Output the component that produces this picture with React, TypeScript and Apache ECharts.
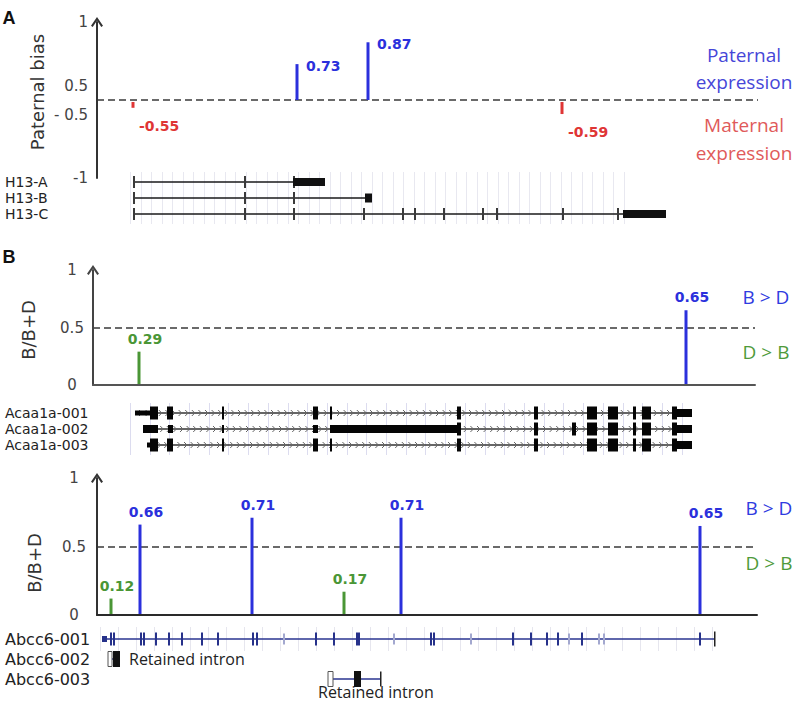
import React, { useEffect, useRef } from 'react';
import * as echarts from 'echarts';

// ---------- Panel A : H13 (paternal bias) ----------
const h13SnpPositions = [36, 200, 271, 465];
const h13PaternalBias = [-0.55, 0.73, 0.87, -0.59];
const h13Transcripts = ['H13-A', 'H13-B', 'H13-C'];
const h13TranscriptSpans = [[36, 228], [36, 275], [36, 569]];
const h13Locus = [33, 530];
const h13Exons: [number, number, number, string][] = [
  [36, 38, 0, 'tick'], [147, 149, 0, 'tick'], [196, 198, 0, 'tick'], [196, 228, 0, 'cds'],
  [36, 38, 1, 'tick'], [147, 149, 1, 'tick'], [196, 198, 1, 'tick'], [268, 275, 1, 'end'],
  [36, 38, 2, 'tick'], [147, 149, 2, 'tick'], [196, 198, 2, 'tick'], [266, 268, 2, 'tick'],
  [305, 307, 2, 'tick'], [317, 319, 2, 'tick'], [346, 348, 2, 'tick'], [385, 387, 2, 'tick'],
  [399, 401, 2, 'tick'], [465, 467, 2, 'tick'], [520, 522, 2, 'tick'], [526, 569, 2, 'cds'],
];

// ---------- Panel B (top) : Acaa1a ----------
const acaaSnpPositions = [46, 593];
const acaaBDRatio = [0.29, 0.65];
const acaaTranscripts = ['Acaa1a-001', 'Acaa1a-002', 'Acaa1a-003'];
const acaaTranscriptSpans = [[42, 599], [50, 599], [54, 599]];
const acaaLocus = [37, 600];
const acaaExons: [number, number, number, string][] = [
  [42, 57, 0, 'utr'], [57, 65, 0, 'cds'], [74, 80, 0, 'cds'], [129, 131, 0, 'cds'], [220, 225, 0, 'cds'],
  [237, 239, 0, 'cds'], [364, 368, 0, 'cds'], [441, 445, 0, 'cds'], [494, 504, 0, 'cds'], [515, 525, 0, 'cds'],
  [540, 543, 0, 'cds'], [549, 558, 0, 'cds'], [579, 584, 0, 'cds'], [584, 599, 0, 'mid'],
  [50, 65, 1, 'mid'], [75, 80, 1, 'mid'], [129, 131, 1, 'mid'], [220, 225, 1, 'mid'], [237, 364, 1, 'mid'],
  [364, 368, 1, 'cds'], [441, 445, 1, 'cds'], [479, 483, 1, 'cds'], [494, 504, 1, 'cds'], [515, 525, 1, 'cds'],
  [540, 543, 1, 'cds'], [549, 558, 1, 'cds'], [579, 584, 1, 'cds'], [584, 599, 1, 'mid'],
  [54, 57, 2, 'utr'], [57, 65, 2, 'cds'], [74, 80, 2, 'cds'], [129, 131, 2, 'cds'], [220, 225, 2, 'cds'],
  [237, 239, 2, 'cds'], [364, 368, 2, 'cds'], [441, 445, 2, 'cds'], [494, 504, 2, 'cds'], [515, 525, 2, 'cds'],
  [540, 543, 2, 'cds'], [549, 558, 2, 'cds'], [579, 584, 2, 'cds'], [584, 599, 2, 'mid'],
];

// ---------- Panel B (bottom) : Abcc6 ----------
const abccSnpPositions = [14, 43, 155, 247, 304, 603];
const abccBDRatio = [0.12, 0.66, 0.71, 0.17, 0.71, 0.65];
const abccTranscripts = ['Abcc6-001', 'Abcc6-002', 'Abcc6-003'];
const abccTranscriptSpans = [[5, 617], [11, 23], [231, 283]];
const abccNotes = ['', 'Retained intron', 'Retained intron'];
const abccLocus = [3, 620];
const abccTickExons = [13, 16, 43, 46, 58, 71, 84, 104, 120, 155, 159, 218, 236, 259, 261, 333, 336, 415, 433, 449, 460, 484, 602];
const abccFaintExons = [186, 296, 373, 471, 501, 506];
const abccOtherExons: [number, number, number, string][] = [
  [5, 10, 0, 'utr'], [617, 618, 0, 'cap'],
  [11, 15, 1, 'open'], [16, 23, 1, 'box'],
  [231, 236, 2, 'open'], [257, 264, 2, 'box'], [283, 284, 2, 'cap'],
];
const abccExons: [number, number, number, string][] = [
  ...abccTickExons.map((x) => [x, x + 2, 0, 'tick'] as [number, number, number, string]),
  ...abccFaintExons.map((x) => [x, x + 2, 0, 'faint'] as [number, number, number, string]),
  ...abccOtherExons,
];

const BLUE = '#2b30dc';
const RED = '#df3535';
const GREEN = '#4a9636';
const ARROW = 'path://M0,10 L7,0 L14,10 L12,11.5 L7,4 L2,11.5 Z';
const LABEL_FONT = 'DejaVu Sans';

type KindStyle = { h: number; fill: string; stroke?: string; minW?: number };

function exonRenderer(source: [number, number, number, string][], kinds: Record<string, KindStyle>) {
  return (params: any, api: any) => {
    const [s, e, row, kind] = source[params.dataIndex];
    const st = kinds[kind];
    const p0 = api.coord([s, row]);
    const p1 = api.coord([e, row]);
    const w = Math.max(p1[0] - p0[0], st.minW ?? 2);
    return {
      type: 'rect',
      shape: { x: p0[0], y: p0[1] - st.h / 2, width: w, height: st.h },
      style: { fill: st.fill, stroke: st.stroke || 'none', lineWidth: st.stroke ? 1 : 0 },
    };
  };
}

function trackGridRenderer(spacing: number, color: string, lastRow: number, pad: number) {
  return (params: any, api: any) => {
    const s = api.coord([api.value(0), 0]);
    const e = api.coord([api.value(1), lastRow]);
    const children: any[] = [];
    for (let x = s[0]; x <= e[0]; x += spacing) {
      children.push({
        type: 'line',
        shape: { x1: Math.round(x) + 0.5, y1: s[1] - pad, x2: Math.round(x) + 0.5, y2: e[1] + pad },
        style: { stroke: color, lineWidth: 1 },
      });
    }
    return { type: 'group', children };
  };
}

function transcriptRenderer(spans: number[][], opts: { color: string; width: number; chevrons?: boolean; notes?: string[] }) {
  return (params: any, api: any) => {
    const i = params.dataIndex;
    const p0 = api.coord([spans[i][0], i]);
    const p1 = api.coord([spans[i][1], i]);
    const children: any[] = [
      { type: 'line', shape: { x1: p0[0], y1: p0[1], x2: p1[0], y2: p1[1] }, style: { stroke: opts.color, lineWidth: opts.width } },
    ];
    if (opts.chevrons) {
      for (let x = p0[0] + 6; x < p1[0] - 3; x += 6.6) {
        children.push({
          type: 'polyline',
          shape: { points: [[x - 2, p0[1] - 3], [x + 1, p0[1]], [x - 2, p0[1] + 3]] },
          style: { stroke: '#666', lineWidth: 1, fill: 'none' },
        });
      }
    }
    const note = opts.notes ? opts.notes[i] : '';
    if (note) {
      const below = i === 2;
      children.push({
        type: 'text',
        x: below ? p0[0] - 10 : p1[0] + 9,
        y: below ? p0[1] + 13 : p0[1],
        style: { text: note, fill: '#222', fontSize: 16, fontFamily: 'Open Sans', align: 'left', verticalAlign: 'middle' },
      });
    }
    return { type: 'group', children };
  };
}

function biasStemRenderer(params: any, api: any) {
  const i = params.dataIndex;
  const v = h13PaternalBias[i];
  const x = h13SnpPositions[i];
  const d = v > 0 ? v - 0.5 : v + 0.5;
  const base = api.coord([x, 0]);
  const tip = api.coord([x, d]);
  const col = v > 0 ? BLUE : RED;
  return {
    type: 'group',
    children: [
      { type: 'line', shape: { x1: base[0], y1: base[1] + (v < 0 ? 2 : 0), x2: tip[0], y2: tip[1] }, style: { stroke: col, lineWidth: 3 } },
      {
        type: 'text',
        x: v > 0 ? tip[0] + 9 : tip[0] + 6,
        y: v > 0 ? tip[1] + 2 : tip[1] + 18,
        style: { text: v.toFixed(2), fill: col, fontSize: 14, fontWeight: 'bold', fontFamily: LABEL_FONT, align: 'left', verticalAlign: 'middle' },
      },
    ],
  };
}

function ratioStemRenderer(positions: number[], values: number[]) {
  return (params: any, api: any) => {
    const i = params.dataIndex;
    const v = values[i];
    const base = api.coord([positions[i], 0]);
    const tip = api.coord([positions[i], v]);
    const col = v > 0.5 ? BLUE : GREEN;
    return {
      type: 'group',
      children: [
        { type: 'line', shape: { x1: base[0], y1: base[1] - 1, x2: tip[0], y2: tip[1] }, style: { stroke: col, lineWidth: 3 } },
        {
          type: 'text',
          x: tip[0] + 6,
          y: tip[1] - 13,
          style: { text: v.toFixed(2), fill: col, fontSize: 14, fontWeight: 'bold', fontFamily: LABEL_FONT, align: 'center', verticalAlign: 'middle' },
        },
      ],
    };
  };
}

const dashedSplit = {
  show: true,
  lineStyle: { color: ['transparent', '#6a6a6a', 'transparent'], type: [7, 4], width: 2 },
};

function plotYAxis(gridIndex: number, min: number, max: number, color: string, label: any) {
  return {
    type: 'value', gridIndex, min, max, interval: 0.5,
    axisLine: { show: true, symbol: ['none', ARROW], symbolSize: [12, 10], lineStyle: { color, width: 2 } },
    axisTick: { show: false },
    axisLabel: { color: '#444', fontSize: 15, fontFamily: LABEL_FONT, ...label },
    splitLine: dashedSplit,
  };
}

function geneYAxis(gridIndex: number, names: string[], margin: number, fontSize: number, lineHeight: number) {
  return {
    type: 'category', gridIndex, data: names, inverse: true,
    axisLine: { show: false }, axisTick: { show: false }, splitLine: { show: false },
    axisLabel: { interval: 0, align: 'left', margin, color: '#222', fontSize, lineHeight, fontFamily: LABEL_FONT },
  };
}

function hiddenX(gridIndex: number, max: number) {
  return { type: 'value', gridIndex, min: 0, max, show: false };
}

function baseX(gridIndex: number, max: number, color: string) {
  return {
    type: 'value', gridIndex, min: 0, max,
    axisLine: { show: true, onZero: false, lineStyle: { color, width: 2 } },
    axisTick: { show: false }, axisLabel: { show: false }, splitLine: { show: false },
  };
}

const kindsA: Record<string, KindStyle> = {
  tick: { h: 12, fill: '#3a3a3a' },
  cds: { h: 8, fill: '#111' },
  end: { h: 9, fill: '#111' },
};
const kindsB1: Record<string, KindStyle> = {
  cds: { h: 13, fill: '#050505' },
  mid: { h: 8, fill: '#050505' },
  utr: { h: 5, fill: '#050505' },
};
const kindsB2: Record<string, KindStyle> = {
  tick: { h: 13, fill: '#26318a' },
  faint: { h: 11, fill: '#a3a8cf' },
  utr: { h: 6, fill: '#26318a' },
  open: { h: 15, fill: '#ffffff', stroke: '#555' },
  box: { h: 16, fill: '#111' },
  cap: { h: 15, fill: '#222', minW: 1.5 },
};

const titleStyle = { fill: '#333', fontSize: 18, fontFamily: LABEL_FONT, align: 'center', verticalAlign: 'middle' };
const sideStyle = { fontSize: 19, fontFamily: 'Open Sans', align: 'center', verticalAlign: 'middle' };

export default function App() {
  const ref = useRef<HTMLDivElement>(null);
  useEffect(() => {
    if (!ref.current) return;
    const chart = echarts.init(ref.current, undefined, { renderer: 'svg' });
    const option: any = {
      animation: false,
      backgroundColor: '#ffffff',
      grid: [
        { left: 97, top: 22, width: 661, height: 156 },
        { left: 97, top: 174, width: 661, height: 48 },
        { left: 93, top: 270, width: 662, height: 115 },
        { left: 93, top: 405, width: 662, height: 48 },
        { left: 97, top: 478, width: 660, height: 137 },
        { left: 97, top: 629, width: 660, height: 60 },
      ],
      xAxis: [
        hiddenX(0, 661),
        hiddenX(1, 661),
        baseX(2, 662, '#555'),
        hiddenX(3, 662),
        baseX(4, 660, '#2a2a2a'),
        hiddenX(5, 660),
      ],
      yAxis: [
        plotYAxis(0, -0.5, 0.5, '#333', {
          align: 'right', margin: 9,
          formatter: (v: number) => (v > 0.25 ? '1' : v < -0.25 ? '-1' : '{a|0.5}\n{a|- 0.5}'),
          rich: { a: { lineHeight: 29, fontSize: 15, fontFamily: LABEL_FONT, color: '#444', align: 'right' } },
        }),
        geneYAxis(1, h13Transcripts, 92, 14, 14),
        plotYAxis(2, 0, 1, '#444', { align: 'center', margin: 21 }),
        geneYAxis(3, acaaTranscripts, 88, 14, 14),
        plotYAxis(4, 0, 1, '#333', { align: 'center', margin: 23 }),
        geneYAxis(5, abccTranscripts, 92, 16, 19),
      ],
      series: [
        // Panel A
        {
          type: 'custom', xAxisIndex: 0, yAxisIndex: 0, renderItem: biasStemRenderer,
          data: h13SnpPositions.map((x, i) => [x, h13PaternalBias[i] > 0 ? h13PaternalBias[i] - 0.5 : h13PaternalBias[i] + 0.5]),
          encode: { x: 0, y: 1 },
        },
        {
          type: 'custom', xAxisIndex: 1, yAxisIndex: 1, renderItem: trackGridRenderer(10.5, '#e8e8f0', 2, 10),
          data: [[h13Locus[0], h13Locus[1], 0]], encode: { x: [0, 1], y: 2 },
        },
        {
          type: 'custom', xAxisIndex: 1, yAxisIndex: 1,
          renderItem: transcriptRenderer(h13TranscriptSpans, { color: '#1a1a1a', width: 1.6 }),
          data: h13TranscriptSpans.map((s, i) => [s[0], s[1], i]), encode: { x: [0, 1], y: 2 },
        },
        {
          type: 'custom', xAxisIndex: 1, yAxisIndex: 1, renderItem: exonRenderer(h13Exons, kindsA),
          data: h13Exons.map((d) => [d[0], d[1], d[2]]), encode: { x: [0, 1], y: 2 },
        },
        // Panel B top
        {
          type: 'custom', xAxisIndex: 2, yAxisIndex: 2, renderItem: ratioStemRenderer(acaaSnpPositions, acaaBDRatio),
          data: acaaSnpPositions.map((x, i) => [x, acaaBDRatio[i]]), encode: { x: 0, y: 1 },
        },
        {
          type: 'custom', xAxisIndex: 3, yAxisIndex: 3, renderItem: trackGridRenderer(19.7, '#dcdcef', 2, 10),
          data: [[acaaLocus[0], acaaLocus[1], 0]], encode: { x: [0, 1], y: 2 },
        },
        {
          type: 'custom', xAxisIndex: 3, yAxisIndex: 3,
          renderItem: transcriptRenderer(acaaTranscriptSpans, { color: '#333', width: 1.4, chevrons: true }),
          data: acaaTranscriptSpans.map((s, i) => [s[0], s[1], i]), encode: { x: [0, 1], y: 2 },
        },
        {
          type: 'custom', xAxisIndex: 3, yAxisIndex: 3, renderItem: exonRenderer(acaaExons, kindsB1),
          data: acaaExons.map((d) => [d[0], d[1], d[2]]), encode: { x: [0, 1], y: 2 },
        },
        // Panel B bottom
        {
          type: 'custom', xAxisIndex: 4, yAxisIndex: 4, renderItem: ratioStemRenderer(abccSnpPositions, abccBDRatio),
          data: abccSnpPositions.map((x, i) => [x, abccBDRatio[i]]), encode: { x: 0, y: 1 },
        },
        {
          type: 'custom', xAxisIndex: 5, yAxisIndex: 5, renderItem: trackGridRenderer(18, '#e6e6ee', 0, 12),
          data: [[abccLocus[0], abccLocus[1], 0]], encode: { x: [0, 1], y: 2 },
        },
        {
          type: 'custom', xAxisIndex: 5, yAxisIndex: 5,
          renderItem: transcriptRenderer(abccTranscriptSpans, { color: '#2a3590', width: 1.6, notes: abccNotes }),
          data: abccTranscriptSpans.map((s, i) => [s[0], s[1], i]), encode: { x: [0, 1], y: 2 },
        },
        {
          type: 'custom', xAxisIndex: 5, yAxisIndex: 5, renderItem: exonRenderer(abccExons, kindsB2),
          data: abccExons.map((d) => [d[0], d[1], d[2]]), encode: { x: [0, 1], y: 2 },
        },
      ],
      graphic: [
        { type: 'text', x: 9, y: 18, style: { text: 'A', fill: '#111', fontSize: 18, fontWeight: 'bold', fontFamily: 'Liberation Sans', align: 'center', verticalAlign: 'middle' } },
        { type: 'text', x: 9, y: 257, style: { text: 'B', fill: '#111', fontSize: 18, fontWeight: 'bold', fontFamily: 'Liberation Sans', align: 'center', verticalAlign: 'middle' } },
        { type: 'text', x: 37, y: 92, rotation: Math.PI / 2, style: { text: 'Paternal bias', ...titleStyle } },
        { type: 'text', x: 28, y: 330, rotation: Math.PI / 2, style: { text: 'B/B+D', ...titleStyle } },
        { type: 'text', x: 34, y: 563, rotation: Math.PI / 2, style: { text: 'B/B+D', ...titleStyle } },
        { type: 'text', x: 744, y: 68, style: { text: 'Paternal\nexpression', fill: '#4646d8', lineHeight: 27, ...sideStyle } },
        { type: 'text', x: 744, y: 139, style: { text: 'Maternal\nexpression', fill: '#e05a5a', lineHeight: 28, ...sideStyle } },
        { type: 'text', x: 766, y: 297, style: { text: 'B > D', fill: '#2f3be0', ...sideStyle } },
        { type: 'text', x: 766, y: 352, style: { text: 'D > B', fill: '#4f9a3a', ...sideStyle } },
        { type: 'text', x: 769, y: 508, style: { text: 'B > D', fill: '#2f3be0', ...sideStyle } },
        { type: 'text', x: 769, y: 563, style: { text: 'D > B', fill: '#4f9a3a', ...sideStyle } },
      ],
    };
    chart.setOption(option);
    return () => chart.dispose();
  }, []);
  return <div ref={ref} style={{ position: 'absolute', left: 0, top: 0, width: 796, height: 702 }} />;
}
